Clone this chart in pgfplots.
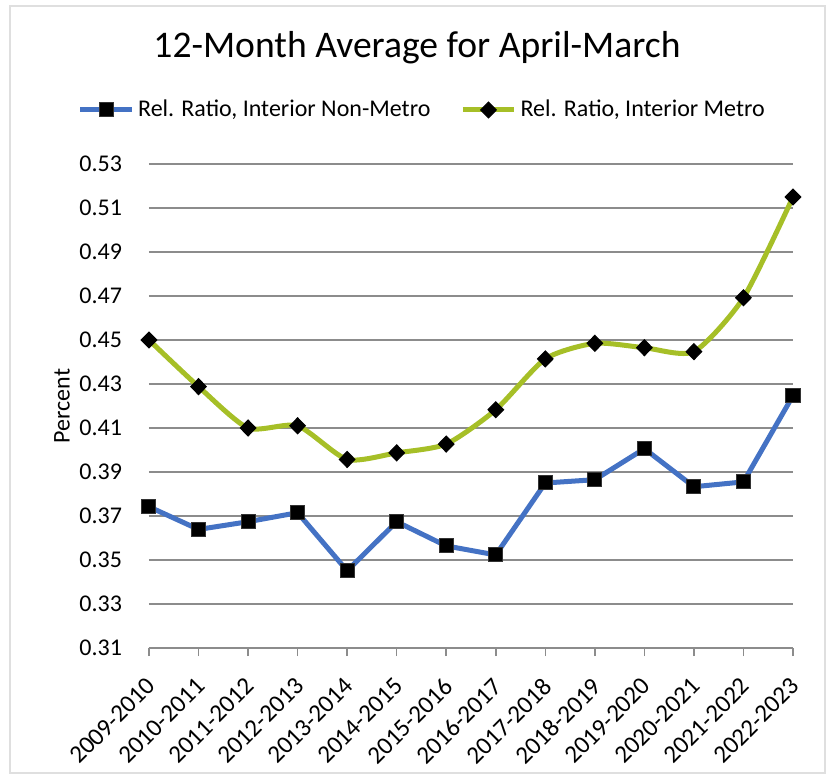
\documentclass[border=0pt]{standalone}
\usepackage{pgfplots}
\pgfplotsset{compat=1.18}
\usepackage{fontspec}
\setmainfont{Carlito}

\definecolor{nonmetro}{RGB}{68,114,196}
\definecolor{metro}{RGB}{166,191,39}
\definecolor{gridgray}{RGB}{140,140,140}

\pgfplotstableread{
x  nonmetro metro
0  0.3742   0.4500
1  0.3639   0.4288
2  0.3674   0.4100
3  0.3715   0.4110
4  0.3451   0.3957
5  0.3674   0.3987
6  0.3564   0.4027
7  0.3523   0.4183
8  0.3850   0.4414
9  0.3865   0.4485
10 0.4006   0.4465
11 0.3833   0.4447
12 0.3855   0.4692
13 0.4247   0.5150
}\ratios

\begin{document}
\begin{tikzpicture}
  \path[use as bounding box] (-74.5pt,-64pt) rectangle (341pt,324pt);
  \draw[gray!25, line width=1pt] (-69.5pt,-62.5pt) rectangle (338pt,321pt);
  \node[font=\fontsize{18.8}{22}\selectfont] at (134pt,300pt) {12-Month Average for April-March};
  \begin{axis}[
    at={(0,0)}, anchor=south west,
    scale only axis,
    width=322pt, height=242pt,
    xmin=0, xmax=13,
    ymin=0.31, ymax=0.53,
    xtick={0,...,13},
    xticklabels={2009-2010,2010-2011,2011-2012,2012-2013,2013-2014,2014-2015,2015-2016,2016-2017,2017-2018,2018-2019,2019-2020,2020-2021,2021-2022,2022-2023},
    xticklabel style={xshift=-2pt, yshift=-8.5pt, rotate=45, anchor=north east, font=\fontsize{12.5}{14}\selectfont, inner sep=1pt},
    ytick={0.31,0.33,0.35,0.37,0.39,0.41,0.43,0.45,0.47,0.49,0.51,0.53},
    yticklabel style={xshift=-6pt, font=\fontsize{12}{14}\selectfont},
    y tick label style={/pgf/number format/fixed, /pgf/number format/fixed zerofill, /pgf/number format/precision=2, /pgf/number format/assume math mode=true},
    axis x line*=bottom,
    axis y line*=left,
    y axis line style={draw=none},
    x axis line style={gridgray, line width=0.8pt, -},
    xtick style={gridgray, line width=0.8pt},
    tick align=outside,
    major tick length=4pt,
    ytick style={draw=none},
    ymajorgrids,
    grid style={gridgray, line width=0.75pt},
    ylabel={Percent},
    ylabel style={at={(axis description cs:-0.135,0.5)}, anchor=center, font=\fontsize{12}{14}\selectfont},
    legend columns=2,
    legend style={at={(0.426,1.1116)}, anchor=center, draw=none, font=\fontsize{12}{14}\selectfont,
      /tikz/every even column/.append style={column sep=13pt}},
    legend image code/.code={\draw[#1, mark repeat=2, mark phase=2] plot coordinates {(0cm,0cm) (0.45cm,0cm) (0.9cm,0cm)};},
  ]
    \addplot[nonmetro, line width=2.5pt, mark=square*, mark size=3.5pt, mark options={black, draw=black!80, line width=0.5pt}]
      table[x=x, y=nonmetro] {\ratios};
    \addplot[metro, line width=2.5pt, smooth, tension=0.4, mark=diamond*, mark size=4pt, mark options={black, xscale=1.3, line width=0.5pt}]
      table[x=x, y=metro] {\ratios};
    \legend{{Rel. Ratio, Interior Non-Metro}, {Rel. Ratio, Interior Metro}}
  \end{axis}
\end{tikzpicture}
\end{document}
